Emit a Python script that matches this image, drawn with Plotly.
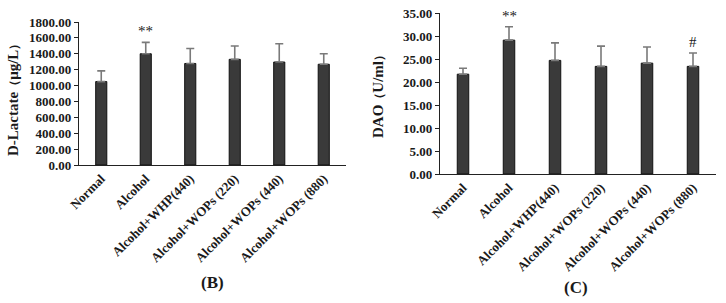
import plotly.graph_objects as go

categories = ["Normal", "Alcohol", "Alcohol+WHP(440)", "Alcohol+WOPs (220)",
              "Alcohol+WOPs (440)", "Alcohol+WOPs (880)"]

dlac_mean = [1050, 1400, 1278, 1330, 1296, 1268]
dlac_err = [135, 143, 189, 168, 231, 133]
dlac_marks = ["", "**", "", "", "", ""]

dao_mean = [21.7, 29.1, 24.7, 23.4, 24.1, 23.4]
dao_err = [1.3, 2.9, 3.8, 4.4, 3.5, 2.9]
dao_marks = ["", "**", "", "", "", "#"]

W, H = 726, 303
TF = "Liberation Serif, Times New Roman, serif"
BAR = "#3a3a3a"
ERR = "#7a7a7a"
TXT = "#1a1a1a"

fig = go.Figure()

def add_panel(means, errs, xa, ya):
    fig.add_trace(go.Bar(
        x=categories, y=means, xaxis=xa, yaxis=ya,
        marker=dict(color=BAR, line=dict(color="#111111", width=1)),
        error_y=dict(type="data", symmetric=False, array=errs,
                     arrayminus=[0] * len(errs), color=ERR, thickness=1.6, width=4),
        showlegend=False, hoverinfo="skip",
    ))

add_panel(dlac_mean, dlac_err, "x", "y")
add_panel(dao_mean, dao_err, "x2", "y2")

def px_x(p):
    return p / W

def px_y(p):
    return 1 - p / H

tickfont = dict(family=TF, size=13, color=TXT)
axfont = dict(family=TF, size=13, color=TXT)

common_x = dict(showline=True, linecolor="#222222", linewidth=1.2, ticks="",
                tickangle=-45, tickfont=axfont, showgrid=False, zeroline=False,
                automargin=False)
common_y = dict(tickformat=".2f", showline=True, linecolor="#222222",
                linewidth=1.2, ticks="outside", ticklen=4, tickcolor="#222222",
                tickfont=tickfont, showgrid=False, zeroline=False, automargin=False)

fig.update_layout(
    width=W, height=H,
    margin=dict(l=0, r=0, t=0, b=0),
    paper_bgcolor="white", plot_bgcolor="white",
    bargap=0.75,
    xaxis=dict(domain=[px_x(79), px_x(346)], anchor="y", **common_x),
    yaxis=dict(domain=[px_y(165), px_y(22)], anchor="x", range=[0, 1800],
               dtick=200, **common_y),
    xaxis2=dict(domain=[px_x(440), px_x(716)], anchor="y2", **common_x),
    yaxis2=dict(domain=[px_y(174), px_y(13)], anchor="x2", range=[0, 35],
                dtick=5, **common_y),
)

ann = []
for c, m, e, t in zip(categories, dlac_mean, dlac_err, dlac_marks):
    if t:
        ann.append(dict(x=c, y=m + e, xref="x", yref="y", text=t, showarrow=False,
                        yanchor="bottom", yshift=1, font=dict(family=TF, size=15, color=TXT)))
for c, m, e, t in zip(categories, dao_mean, dao_err, dao_marks):
    if t:
        ann.append(dict(x=c, y=m + e, xref="x2", yref="y2", text=t, showarrow=False,
                        yanchor="bottom", yshift=1, font=dict(family=TF, size=15, color=TXT)))

def lbl(x, y, text, size, angle=0):
    ann.append(dict(x=px_x(x), y=px_y(y), xref="paper", yref="paper", text=text,
                    textangle=angle, showarrow=False, xanchor="center", yanchor="middle",
                    font=dict(family=TF, size=size, color=TXT)))

P = "<span style='font-size:12px'>"
lbl(13, 97, "<b>D-Lactate" + P + "（</span>μg/L" + P + "）</span></b>", 15, -90)
lbl(378, 94, "<b>DAO" + P + "（</span>U/ml" + P + "）</span></b>", 15, -90)
lbl(212, 282, "<b>(B)</b>", 17)
lbl(576, 287, "<b>(C)</b>", 17)
fig.update_layout(annotations=ann)

fig.update_xaxes(tickprefix="<b>", ticksuffix="</b>")
fig.update_yaxes(tickprefix="<b>", ticksuffix="</b>")

fig.write_html("out.html", config={"displayModeBar": False},
               post_script="document.body.style.margin='0';document.body.style.overflow='hidden';")
